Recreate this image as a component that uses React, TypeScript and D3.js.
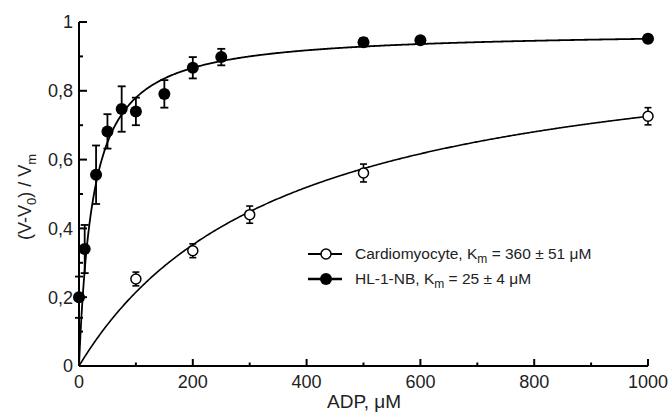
import React from "react";
import * as d3 from "d3";

// ---- Data ----
const hlX = [0, 10, 30, 50, 75, 100, 150, 200, 250, 500, 600, 1000];
const hlY = [0.2, 0.34, 0.556, 0.682, 0.747, 0.74, 0.791, 0.867, 0.898, 0.941, 0.947, 0.951];
const hlErr = [0.06, 0.07, 0.085, 0.05, 0.066, 0.04, 0.04, 0.031, 0.024, 0.012, 0.01, 0.01];

const cmX = [100, 200, 300, 500, 1000];
const cmY = [0.253, 0.335, 0.44, 0.561, 0.726];
const cmErr = [0.02, 0.02, 0.025, 0.026, 0.025];

// Michaelis-Menten fit parameters (Km from legend)
const hlKm = 25;
const hlVmax = 0.975;
const cmKm = 360;
const cmVmax = 0.987;

const xMajorTicks = [0, 200, 400, 600, 800, 1000];
const xMinorTicks = [100, 300, 500, 700, 900];
const yMajorTicks = [0, 0.2, 0.4, 0.6, 0.8, 1];
const yMinorTicks = [0.1, 0.3, 0.5, 0.7, 0.9];
const yTickLabels = ["0", "0,2", "0,4", "0,6", "0,8", "1"];

const FONT = "'Liberation Sans', Arial, Helvetica, sans-serif";

export default function App() {
  const W = 670;
  const H = 412;
  const x = d3.scaleLinear().domain([0, 1000]).range([79, 648]);
  const y = d3.scaleLinear().domain([0, 1]).range([366, 22]);

  const samples: number[] = [];
  for (let v = 0; v <= 20; v += 0.25) samples.push(v);
  for (let v = 21; v <= 1000; v += 2) samples.push(v);

  const line = d3
    .line<[number, number]>()
    .x((d) => x(d[0]))
    .y((d) => y(d[1]));

  const hlCurve = line(samples.map((s) => [s, (hlVmax * s) / (hlKm + s)]));
  const cmCurve = line(samples.map((s) => [s, (cmVmax * s) / (cmKm + s)]));

  const x0 = x(0);
  const y0 = y(0);

  return (
    <div style={{ position: "absolute", left: 0, top: 0 }}>
      <svg width={W} height={H} style={{ display: "block", background: "#fff" }} fontFamily={FONT}>
        <rect width={W} height={H} fill="#fff" />
        {/* axes */}
        <line x1={x0} x2={x0} y1={y(1)} y2={y0} stroke="#000" strokeWidth={2} />
        <line x1={x0} x2={x(1000)} y1={y0} y2={y0} stroke="#000" strokeWidth={2} />
        {yMajorTicks.map((t, i) => (
          <g key={"ym" + i}>
            {t > 0 && <line x1={x0} x2={x0 + 8} y1={y(t)} y2={y(t)} stroke="#000" strokeWidth={2} />}
            <text x={73} y={y(t)} dy="0.35em" textAnchor="end" fontSize={18} fill="#222">
              {yTickLabels[i]}
            </text>
          </g>
        ))}
        {yMinorTicks.map((t, i) => (
          <line key={"yn" + i} x1={x0} x2={x0 + 4} y1={y(t)} y2={y(t)} stroke="#000" strokeWidth={2} />
        ))}
        {xMajorTicks.map((t, i) => (
          <g key={"xm" + i}>
            {t > 0 && <line x1={x(t)} x2={x(t)} y1={y0} y2={y0 - 7} stroke="#000" strokeWidth={2} />}
            <text x={x(t)} y={388} textAnchor="middle" fontSize={18} fill="#222">
              {t}
            </text>
          </g>
        ))}
        {xMinorTicks.map((t, i) => (
          <line key={"xn" + i} x1={x(t)} x2={x(t)} y1={y0} y2={y0 - 3.5} stroke="#000" strokeWidth={2} />
        ))}

        {/* axis titles */}
        <text x={364} y={408} textAnchor="middle" fontSize={19} fill="#222">
          ADP, μM
        </text>
        <text transform="translate(31,197) rotate(-90)" textAnchor="middle" fontSize={18} fill="#222">
          (V-V<tspan fontSize={13} dy={5}>0</tspan>
          <tspan dy={-5}>) / V</tspan>
          <tspan fontSize={13} dy={5}>m</tspan>
        </text>

        {/* error bars */}
        {hlX.map((v, i) => (
          <g key={"he" + i} stroke="#000" strokeWidth={1.8}>
            <line x1={x(v)} x2={x(v)} y1={y(hlY[i] - hlErr[i])} y2={y(hlY[i] + hlErr[i])} />
            <line x1={x(v) - 4} x2={x(v) + 4} y1={y(hlY[i] - hlErr[i])} y2={y(hlY[i] - hlErr[i])} />
            <line x1={x(v) - 4} x2={x(v) + 4} y1={y(hlY[i] + hlErr[i])} y2={y(hlY[i] + hlErr[i])} />
          </g>
        ))}
        {cmX.map((v, i) => (
          <g key={"ce" + i} stroke="#000" strokeWidth={1.6}>
            <line x1={x(v)} x2={x(v)} y1={y(cmY[i] - cmErr[i])} y2={y(cmY[i] + cmErr[i])} />
            <line x1={x(v) - 3.5} x2={x(v) + 3.5} y1={y(cmY[i] - cmErr[i])} y2={y(cmY[i] - cmErr[i])} />
            <line x1={x(v) - 3.5} x2={x(v) + 3.5} y1={y(cmY[i] + cmErr[i])} y2={y(cmY[i] + cmErr[i])} />
          </g>
        ))}

        {/* fit curves */}
        <path d={hlCurve || ""} fill="none" stroke="#000" strokeWidth={1.8} />
        <path d={cmCurve || ""} fill="none" stroke="#000" strokeWidth={1.6} />

        {/* markers */}
        {hlX.map((v, i) => (
          <circle key={"hp" + i} cx={x(v)} cy={y(hlY[i])} r={6} fill="#000" />
        ))}
        {cmX.map((v, i) => (
          <circle key={"cp" + i} cx={x(v)} cy={y(cmY[i])} r={5} fill="#fff" stroke="#000" strokeWidth={1.5} />
        ))}

        {/* legend */}
        <line x1={308} x2={342} y1={254} y2={254} stroke="#000" strokeWidth={2} />
        <circle cx={326} cy={254} r={5} fill="#fff" stroke="#000" strokeWidth={1.5} />
        <text x={355} y={254} dy="0.35em" fontSize={15.5} fill="#222">
          Cardiomyocyte, K<tspan fontSize={12} dy={4}>m</tspan>
          <tspan dy={-4}> = 360 ± 51 μM</tspan>
        </text>
        <line x1={308} x2={342} y1={279} y2={279} stroke="#000" strokeWidth={2.5} />
        <circle cx={326} cy={279} r={6} fill="#000" />
        <text x={355} y={279} dy="0.35em" fontSize={15.5} fill="#222">
          HL-1-NB, K<tspan fontSize={12} dy={4}>m</tspan>
          <tspan dy={-4}> = 25 ± 4 μM</tspan>
        </text>
      </svg>
    </div>
  );
}
